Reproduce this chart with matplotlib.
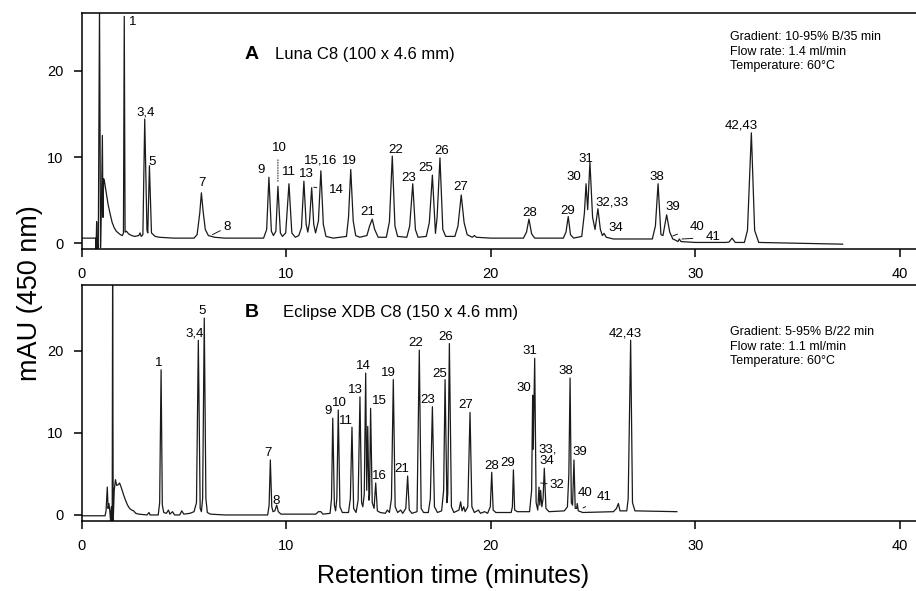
import matplotlib
matplotlib.use("Agg")
import matplotlib.pyplot as plt

plt.rcParams['font.family'] = ['Liberation Sans', 'DejaVu Sans']

# ---- panel A: Luna C8 trace (time in min, signal in mAU)
luna_time = [0.00, 0.70, 0.71, 0.74, 0.77, 0.82, 0.88, 0.93, 0.98, 1.02, 1.05, 1.08, 1.12, 1.20, 1.30,
             1.40, 1.50, 1.60, 1.70, 1.80, 1.90, 2.00, 2.05, 2.09, 2.13, 2.20, 2.30, 2.45, 2.60, 2.80,
             2.86, 2.92, 3.00, 3.09, 3.20, 3.24, 3.32, 3.42, 3.60, 3.80, 4.50, 5.50, 5.65, 5.78, 5.86,
             5.94, 6.05, 6.20, 6.50, 7.00, 8.90, 9.05, 9.16, 9.28, 9.38, 9.50, 9.60, 9.72, 9.82, 9.98,
             10.14, 10.28, 10.45, 10.62, 10.75, 10.87, 10.98, 11.06, 11.14, 11.25, 11.35, 11.44, 11.58,
             11.70, 11.82, 11.95, 12.30, 12.95, 13.05, 13.16, 13.28, 13.40, 13.60, 13.95, 14.08, 14.21,
             14.33, 14.50, 14.90, 15.05, 15.19, 15.32, 15.45, 15.90, 16.04, 16.19, 16.32, 16.45, 16.85,
             17.00, 17.15, 17.30, 17.38, 17.52, 17.66, 17.80, 18.25, 18.40, 18.56, 18.70, 18.85, 19.10,
             19.20, 19.30, 20.00, 21.60, 21.75, 21.87, 22.00, 22.15, 23.55, 23.68, 23.79, 23.90, 24.05,
             24.45, 24.58, 24.66, 24.74, 24.85, 24.98, 25.10, 25.24, 25.36, 25.46, 25.54, 25.65, 26.00,
             27.90, 28.05, 28.18, 28.32, 28.42, 28.60, 28.75, 28.90, 29.00, 29.15, 29.22, 29.30, 30.00,
             31.50, 31.65, 31.80, 31.95, 32.40, 32.55, 32.74, 32.90, 33.10, 37.20]
luna_mau = [0.6, 0.6, -0.7, 2.5, 0.0, -0.7, 27.5, -0.5, 5.0, 12.5, 3.0, 7.5, 7.2, 6.0, 4.5,
            3.4, 2.4, 1.8, 1.4, 1.2, 1.0, 0.9, 1.2, 26.3, 1.3, 1.4, 1.1, 0.9, 0.8, 0.9,
            1.2, 0.8, 1.0, 14.4, 1.5, 1.2, 9.0, 1.2, 0.8, 0.7, 0.6, 0.6, 1.0, 3.5, 5.85,
            3.8, 1.6, 0.9, 0.7, 0.6, 0.6, 1.6, 7.65, 1.4, 0.9, 1.4, 6.6, 1.2, 0.8, 1.2,
            6.9, 1.2, 0.7, 0.9, 1.8, 7.2, 2.2, 1.3, 2.4, 6.45, 2.2, 1.2, 2.6,
            8.4, 2.2, 0.8, 0.6, 0.8, 3.0, 8.55, 2.6, 0.9, 0.7, 0.9, 2.0, 2.8,
            1.6, 0.7, 0.7, 2.5, 10.1, 2.0, 0.8, 0.7, 2.0, 6.9, 1.6, 0.7, 0.8,
            2.4, 7.9, 1.15, 3.0, 9.9, 1.6, 0.8, 0.8, 2.0, 5.6, 2.4, 1.0, 0.7,
            0.9, 0.7, 0.6, 0.6, 1.3, 2.8, 1.1, 0.6, 0.6, 1.3, 3.1, 1.0, 0.6,
            0.8, 3.5, 6.9, 3.9, 9.4, 3.0, 1.6, 4.0, 1.6, 0.9, 1.15, 0.7, 0.5,
            0.5, 2.0, 6.9, 1.0, 0.9, 3.3, 1.3, 0.5, 0.4, 0.2, 0.5, 0.2, 0.1,
            0.1, 0.15, 0.6, 0.1, 0.1, 1.5, 12.8, 1.5, 0.1, -0.1]

luna_labels = ['1', '3,4', '5', '7', '9', '10', '11', '13', '15,16', '19', '21', '22', '23', '25',
               '26', '27', '28', '29', '30', '31', '32,33', '34', '38', '39', '42,43']
luna_label_t = [2.09, 3.09, 3.32, 5.86, 9.16, 9.60, 10.14, 10.87, 11.70, 13.16, 14.21, 15.19, 16.19,
                17.15, 17.52, 18.56, 21.87, 23.79, 24.66, 24.85, 25.24, 25.54, 28.18, 28.60, 32.74]
luna_label_mau = [26.3, 14.4, 9.0, 5.85, 7.65, 6.6, 6.9, 7.2, 8.4, 8.55, 2.8, 10.1, 6.9,
                  7.9, 9.9, 5.6, 2.8, 3.1, 6.9, 9.4, 4.0, 1.15, 6.9, 3.3, 12.8]

# ---- panel B: Eclipse XDB C8 trace
eclipse_time = [0.00, 1.15, 1.20, 1.26, 1.30, 1.34, 1.38, 1.42, 1.46, 1.50, 1.52, 1.55, 1.60, 1.66,
                1.72, 1.80, 1.86, 1.95, 2.05, 2.15, 2.25, 2.35, 2.45, 2.55, 2.65, 2.80, 3.20, 3.30,
                3.35, 3.75, 3.82, 3.89, 3.95, 4.02, 4.15, 4.25, 4.32, 4.45, 4.55, 4.80, 4.90, 5.00,
                5.30, 5.50, 5.62, 5.71, 5.80, 5.86, 5.92, 6.00, 6.08, 6.15, 6.30, 7.00, 9.10, 9.17,
                9.23, 9.30, 9.36, 9.45, 9.54, 9.62, 9.75, 11.45, 11.58, 11.70, 11.80, 12.15, 12.22,
                12.28, 12.36, 12.42, 12.48, 12.55, 12.63, 12.75, 13.05, 13.14, 13.22, 13.30, 13.42,
                13.52, 13.61, 13.69, 13.75, 13.82, 13.89, 13.94, 13.99, 14.05, 14.08, 14.13, 14.21,
                14.30, 14.38, 14.46, 14.60, 14.85, 14.95, 15.05, 15.15, 15.24, 15.33, 15.45, 15.60,
                15.70, 15.85, 15.94, 16.02, 16.15, 16.40, 16.51, 16.60, 16.72, 16.95, 17.05, 17.15,
                17.25, 17.40, 17.60, 17.70, 17.77, 17.86, 17.90, 17.98, 18.08, 18.20, 18.45, 18.53,
                18.60, 18.68, 18.75, 18.88, 18.99, 19.08, 19.20, 19.40, 19.50, 19.70, 19.85, 19.98,
                20.05, 20.12, 20.25, 21.00, 21.06, 21.11, 21.17, 21.30, 21.90, 22.00, 22.05, 22.08,
                22.15, 22.22, 22.30, 22.36, 22.40, 22.44, 22.50, 22.56, 22.62, 22.70, 22.85, 23.60,
                23.75, 23.82, 23.88, 23.94, 24.00, 24.07, 24.13, 24.20, 24.23, 24.28, 24.50, 26.00,
                26.15, 26.24, 26.32, 26.65, 26.72, 26.84, 26.93, 27.05, 29.10]
eclipse_mau = [-0.1, -0.1, 0.5, 3.4, 0.8, 1.4, 0.6, -0.7, 1.0, -0.7, 29.0, -0.7, 3.0, 4.3,
               3.6, 3.7, 3.9, 3.3, 2.5, 1.8, 1.2, 0.8, 0.6, 0.5, 0.2, 0.1, 0.0, 0.3,
               0.0, 0.0, 1.5, 17.7, 1.2, 0.3, 0.2, 0.6, 0.1, 0.4, 0.0, 0.0, 0.5, 0.1,
               0.2, 0.4, 1.5, 21.3, 0.8, 0.4, 2.0, 24.0, 2.0, 0.3, 0.1, 0.0, 0.0, 1.2,
               6.7, 1.0, 0.4, 0.5, 1.2, 0.4, 0.1, 0.1, 0.4, 0.4, 0.1, 0.2, 2.0,
               11.8, 1.2, 0.5, 2.0, 12.8, 1.0, 0.3, 0.3, 2.0, 10.7, 0.8, 0.3,
               1.8, 14.4, 1.5, 1.0, 2.5, 17.3, 3.0, 10.8, 1.8, 2.5, 13.0, 1.5,
               0.8, 3.9, 0.5, 0.3, 0.2, 0.6, 0.3, 2.0, 16.5, 1.0, 0.3, 0.6,
               0.2, 0.8, 4.75, 0.6, 0.2, 0.4, 20.1, 0.8, 0.3, 0.3, 2.0, 13.2,
               1.0, 0.3, 0.5, 3.0, 16.5, 1.5, 2.5, 20.9, 1.0, 0.3, 0.6, 1.6,
               0.5, 1.0, 0.4, 1.0, 12.5, 1.0, 0.3, 0.6, 0.2, 0.4, 0.2, 1.0,
               5.2, 0.6, 0.3, 0.3, 1.0, 5.5, 0.6, 0.4, 0.4, 3.0, 14.6, 8.0,
               19.1, 1.5, 0.6, 3.4, 1.2, 3.0, 1.0, 2.0, 5.7, 0.8, 0.4, 0.5,
               1.0, 5.0, 16.7, 1.5, 1.2, 6.7, 0.8, 0.8, 1.4, 0.5, 0.3, 0.4,
               0.8, 1.4, 0.5, 0.5, 2.0, 21.3, 1.5, 0.5, 0.4]

eclipse_labels = ['1', '3,4', '5', '7', '8', '9', '10', '11', '13', '14', '15', '16', '19', '21',
                  '22', '23', '25', '26', '27', '28', '29', '30', '31', '33,\n34', '38', '39', '40',
                  '42,43']
eclipse_label_t = [3.89, 5.71, 6.00, 9.23, 9.54, 12.28, 12.55, 13.22, 13.61, 13.89, 14.13, 14.38,
                   15.24, 15.94, 16.51, 17.15, 17.77, 17.98, 18.99, 20.05, 21.11, 22.05, 22.15,
                   22.62, 23.88, 24.07, 24.23, 26.84]
eclipse_label_mau = [17.7, 21.3, 24.0, 6.7, 1.2, 11.8, 12.8, 10.7, 14.4, 17.3, 13.0, 3.9,
                     16.5, 4.75, 20.1, 13.2, 16.5, 20.9, 12.5, 5.2, 5.5, 14.6, 19.1,
                     5.7, 16.7, 6.7, 1.4, 21.3]

# label nudges in pixels (x right, y up) relative to the peak top
luna_nudge = {'1': (8, -12), '3,4': (1, 1), '5': (3, -2), '7': (1, 4), '9': (-8, 1), '10': (1, 32),
              '11': (0, 6), '13': (2, 1), '15,16': (0, 4), '19': (-1, 3), '21': (-4, 1),
              '22': (3, 0), '23': (-4, 0), '25': (-7, 1), '26': (2, 1), '27': (-1, 2), '28': (1, 0),
              '29': (-1, 0), '30': (-12, 1), '31': (-4, -3), '32,33': (14, 0), '34': (12, -1),
              '38': (-1, 1), '39': (6, 2), '42,43': (-10, 1)}
eclipse_nudge = {'1': (-2, 1), '3,4': (-4, 1), '5': (-2, 1), '7': (-2, 1), '8': (-1, -2),
                 '9': (-5, 1), '10': (1, 1), '11': (-6, 0), '13': (-5, 1), '14': (-2, 1),
                 '15': (9, 1), '16': (4, 1), '19': (-5, 1), '21': (-6, 1), '22': (-4, 1),
                 '23': (-5, 1), '25': (-5, 0), '26': (-4, 1), '27': (-4, 1), '28': (0, 0),
                 '29': (-6, 1), '30': (-9, 1), '31': (-5, 1), '33,\n34': (3, 1), '38': (-4, 1),
                 '39': (6, 2), '40': (8, 4), '42,43': (-5, 1)}

# labels tied to their peak by a thin leader line: (text, peak point, text point)
luna_callouts = [('8', (6.40, 1.0), (7.10, 1.85)), ('14', (11.35, 6.5), (12.47, 6.2)),
                 ('40', (28.90, 0.85), (30.07, 1.92)), ('41', (29.35, 0.5), (30.85, 0.7))]
eclipse_callouts = [('32', (22.44, 3.9), (23.25, 3.66)), ('41', (24.51, 0.85), (25.56, 2.2))]

panels = [
    dict(t=luna_time, y=luna_mau, labels=luna_labels, lt=luna_label_t, ly=luna_label_mau,
         nudge=luna_nudge, callouts=luna_callouts, ylim=(-0.66, 26.69),
         letter='A', column='Luna C8 (100 x 4.6 mm)',
         info='Gradient: 10-95% B/35 min\nFlow rate: 1.4 ml/min\nTemperature: 60\u00b0C',
         top=13, bottom=249),
    dict(t=eclipse_time, y=eclipse_mau, labels=eclipse_labels, lt=eclipse_label_t, ly=eclipse_label_mau,
         nudge=eclipse_nudge, callouts=eclipse_callouts, ylim=(-0.7, 28.04),
         letter='B', column='Eclipse XDB C8 (150 x 4.6 mm)',
         info='Gradient: 5-95% B/22 min\nFlow rate: 1.1 ml/min\nTemperature: 60\u00b0C',
         top=285, bottom=520.7),
]

W, H = 916, 591
fig = plt.figure(figsize=(W / 100, H / 100), dpi=100)
left = 81.5

for p in panels:
    ax = fig.add_axes([left / W, 1 - p['bottom'] / H, (W - left) / W, (p['bottom'] - p['top']) / H])
    ax.plot(p['t'], p['y'], color='#1a1a1a', lw=0.9)
    ax.set_xlim(0, (W - left) / 20.46)
    ax.set_ylim(*p['ylim'])
    ax.set_xticks([0, 10, 20, 30, 40])
    ax.set_yticks([0, 10, 20])
    ax.spines['right'].set_visible(False)
    for s in ['left', 'top', 'bottom']:
        ax.spines[s].set_linewidth(1.1)
    ax.tick_params(direction='out', length=6, width=1.1, labelsize=10.5, pad=7)

    for lab, t, y in zip(p['labels'], p['lt'], p['ly']):
        dx, dy = p['nudge'][lab]
        ax.annotate(lab, xy=(t, y), xytext=(dx, dy), textcoords='offset pixels',
                    ha='center', va='bottom', fontsize=9.5, linespacing=0.95)
    # dotted leader under label 10 of panel A
    if p['letter'] == 'A':
        ax.annotate('', xy=(9.60, 6.8), xytext=(9.60, 10.0),
                    arrowprops=dict(arrowstyle='-', lw=0.7, ls=':', color='#1a1a1a'))
    for lab, xy, xt in p['callouts']:
        ax.annotate(lab, xy=xy, xytext=xt, ha='center', va='center', fontsize=9.5,
                    arrowprops=dict(arrowstyle='-', lw=0.7, color='#1a1a1a', shrinkA=7, shrinkB=0))

    h = p['bottom'] - p['top']
    ax.text((245 - left) / (W - left), (p['bottom'] - (59.3 if p['letter'] == 'A' else 316.7)) / h,
            p['letter'], fontsize=14, fontweight='bold', transform=ax.transAxes, va='baseline')
    ax.text(((275 if p['letter'] == 'A' else 282.7) - left) / (W - left),
            (p['bottom'] - (59.3 if p['letter'] == 'A' else 316.7)) / h,
            p['column'], fontsize=12, transform=ax.transAxes, va='baseline')
    ax.text((730 - left) / (W - left), (p['bottom'] - (51.7 if p['letter'] == 'A' else 346.7)) / h,
            p['info'], fontsize=9, transform=ax.transAxes, va='center', linespacing=1.25)

fig.text(30 / W, 1 - 293 / H, 'mAU (450 nm)', rotation=90, ha='center', va='center', fontsize=19.5)
fig.text(453 / W, 1 - 583 / H, 'Retention time (minutes)', ha='center', va='baseline', fontsize=18)

fig.savefig('out.png', dpi=100)
